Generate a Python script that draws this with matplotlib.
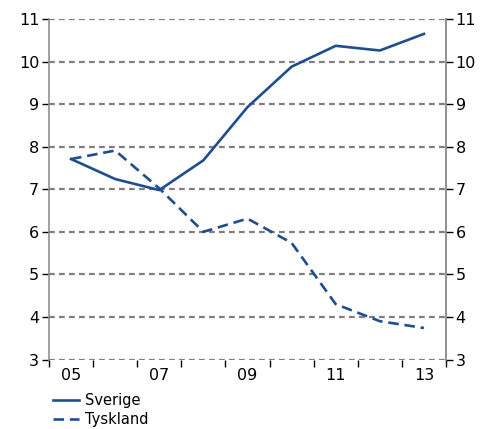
import matplotlib
matplotlib.use("Agg")
import matplotlib.pyplot as plt
import numpy as np

years = [2005, 2006, 2007, 2008, 2009, 2010, 2011, 2012, 2013]
labels = ["05", "", "07", "", "09", "", "11", "", "13"]
sverige = [7.71, 7.24, 6.98, 7.68, 8.93, 9.88, 10.37, 10.26, 10.65]
tyskland = [7.71, 7.91, 7.02, 6.0, 6.31, 5.74, 4.3, 3.9, 3.74]

blue = "#1F4E8F"
grey = "#7F7F7F"

plt.rcParams["font.family"] = ["Verdana", "DejaVu Sans"]

fig = plt.figure(figsize=(4.86, 4.29), dpi=100)
ax = fig.add_axes([49/486, 1-359.5/429, (446-49)/486, (359.5-19)/429])

x = np.arange(len(years))
l1, = ax.plot(x, sverige, color=blue, lw=1.9, label="Sverige")
l2, = ax.plot(x, tyskland, color=blue, lw=1.9, ls=(0, (4, 2.2)), label="Tyskland")

ax.set_xlim(-0.5, len(years) - 0.5)
ax.set_ylim(3, 11)
ax.set_yticks(range(3, 12))
for y in range(3, 12):
    ax.axhline(y, color=grey, lw=1.6, ls=(0, (2.6, 1.9)), zorder=0)

ax.set_xticks(x)
ax.set_xticklabels(labels)
ax.set_xticks(np.arange(-0.5, len(years)), minor=True)
ax.tick_params(axis="x", which="major", length=0, pad=6, labelsize=11.5)
ax.tick_params(axis="x", which="minor", length=5, width=1, color="black")
ax.tick_params(axis="y", length=5, width=1, labelsize=11.5, pad=2)

for s in ["top", "bottom"]:
    ax.spines[s].set_visible(False)
for s in ["left", "right"]:
    ax.spines[s].set_color("#909090")
    ax.spines[s].set_linewidth(1.2)

ax2 = ax.twinx()
ax2.set_ylim(3, 11)
ax2.set_yticks(range(3, 12))
ax2.tick_params(axis="y", length=5, width=1, labelsize=11.5, pad=2)
for s in ["top", "bottom", "left"]:
    ax2.spines[s].set_visible(False)
ax2.spines["right"].set_color("#909090")
ax2.spines["right"].set_linewidth(1.2)

fig.legend(handles=[l1, l2], loc="upper left", bbox_to_anchor=(53/486, 1-393/429),
           frameon=False, fontsize=10.5, handlelength=1.8, handletextpad=0.42,
           labelspacing=0.3, borderaxespad=0, borderpad=0)

fig.savefig("out.png", dpi=100)
